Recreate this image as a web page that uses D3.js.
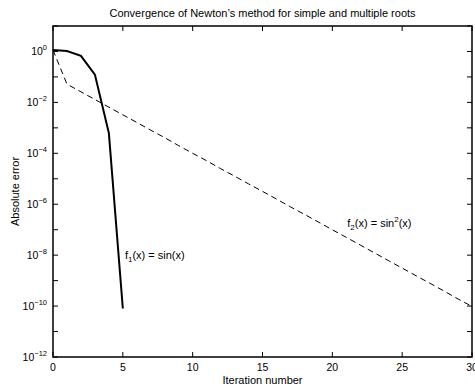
<!DOCTYPE html>
<html lang="en">
<head>
    <meta charset="UTF-8">
    <title>Newton convergence</title>
    <style>
        body { margin: 0; background: #fff; }
        text { font-family: "Liberation Sans", Arial, sans-serif; fill: #000; }
        .tick-label { font-size: 10.5px; }
    </style>
    <script src="https://cdn.jsdelivr.net/npm/d3@7"></script>
</head>
<body>
<svg class="chart" width="475" height="386"></svg>
<script>
    // iteration numbers and absolute errors
    const iterSimple = [0, 1, 2, 3, 4, 5],
        errSimple = [1.14, 1.04, 0.67, 0.123, 6.2e-4, 8e-11],
        iterMultiple = [0, 1, 2, 3, 4, 5, 6, 7, 8, 9, 10, 11, 12, 13, 14, 15,
            16, 17, 18, 19, 20, 21, 22, 23, 24, 25, 26, 27, 28, 29, 30],
        errMultiple = [1.14, 5.2e-2, 2.6e-2, 1.3e-2, 6.5e-3, 3.25e-3, 1.63e-3, 8.1e-4,
            4.1e-4, 2.0e-4, 1.0e-4, 5.1e-5, 2.5e-5, 1.27e-5, 6.3e-6, 3.2e-6,
            1.6e-6, 7.9e-7, 4.0e-7, 2.0e-7, 9.9e-8, 5.0e-8, 2.5e-8, 1.24e-8,
            6.2e-9, 3.1e-9, 1.55e-9, 7.8e-10, 3.9e-10, 1.9e-10, 9.7e-11],
        xTicks = [0, 5, 10, 15, 20, 25, 30],
        yExponents = [0, -2, -4, -6, -8, -10, -12],
        yMinorExponents = [1, -1, -3, -5, -7, -9, -11];

    const margin = {left: 53, right: 3, top: 26, bottom: 29},
        width = 475 - margin.left - margin.right,
        height = 386 - margin.top - margin.bottom;

    const svg = d3.select('.chart');

    let x = d3.scaleLinear().domain([0, 30]).range([margin.left, margin.left + width]),
        y = d3.scaleLog().domain([1e-12, 10]).range([margin.top + height, margin.top]);

    /**
     * 刻度（朝内，四边）
     */
    const tickLen = 5;
    const axes = svg.append('g').attr('stroke', '#000').attr('stroke-width', 1);

    xTicks.forEach(t => {
        axes.append('line').attr('x1', x(t)).attr('x2', x(t))
            .attr('y1', y(1e-12)).attr('y2', y(1e-12) - tickLen);
        axes.append('line').attr('x1', x(t)).attr('x2', x(t))
            .attr('y1', y(10)).attr('y2', y(10) + tickLen);
    });
    yExponents.concat(yMinorExponents).forEach(e => {
        axes.append('line').attr('x1', x(0)).attr('x2', x(0) + tickLen)
            .attr('y1', y(Math.pow(10, e))).attr('y2', y(Math.pow(10, e)));
        axes.append('line').attr('x1', x(30)).attr('x2', x(30) - tickLen)
            .attr('y1', y(Math.pow(10, e))).attr('y2', y(Math.pow(10, e)));
    });

    // 边框
    svg.append('rect')
        .attr('x', x(0)).attr('y', y(10))
        .attr('width', x(30) - x(0)).attr('height', y(1e-12) - y(10))
        .attr('fill', 'none').attr('stroke', '#000').attr('stroke-width', 1.5);

    // x tick labels
    svg.append('g').selectAll('text').data(xTicks).enter().append('text')
        .attr('class', 'tick-label')
        .attr('x', d => x(d)).attr('y', y(1e-12) + 14)
        .attr('text-anchor', 'middle')
        .text(d => d);

    // y tick labels: 10 with superscript
    let yl = svg.append('g').selectAll('text').data(yExponents).enter().append('text')
        .attr('class', 'tick-label')
        .attr('x', x(0) - 6).attr('y', d => y(Math.pow(10, d)) + 4)
        .attr('text-anchor', 'end');
    yl.append('tspan').text('10');
    yl.append('tspan').attr('dy', -5).attr('font-size', '7.5px')
        .text(d => d === 0 ? '0' : '\u2212' + (-d));

    /**
     * 曲线
     */
    let line = d3.line().x(d => x(d[0])).y(d => y(d[1]));

    svg.append('path')
        .datum(iterMultiple.map((d, i) => [d, errMultiple[i]]))
        .attr('d', line)
        .attr('fill', 'none').attr('stroke', '#000')
        .attr('stroke-width', 1).attr('stroke-dasharray', '6,4');

    svg.append('path')
        .datum(iterSimple.map((d, i) => [d, errSimple[i]]))
        .attr('d', line)
        .attr('fill', 'none').attr('stroke', '#000')
        .attr('stroke-width', 2);

    // 注释文字
    let t1 = svg.append('text').attr('font-size', '11px')
        .attr('x', x(5.15)).attr('y', y(1e-8) + 4);
    t1.append('tspan').text('f');
    t1.append('tspan').attr('dy', 3).attr('font-size', '8px').text('1');
    t1.append('tspan').attr('dy', -3).text('(x) = sin(x)');

    let t2 = svg.append('text').attr('font-size', '11px')
        .attr('x', x(21.07)).attr('y', y(1.8e-7) + 4);
    t2.append('tspan').text('f');
    t2.append('tspan').attr('dy', 3).attr('font-size', '8px').text('2');
    t2.append('tspan').attr('dy', -3).text('(x) = sin');
    t2.append('tspan').attr('dy', -5).attr('font-size', '8px').text('2');
    t2.append('tspan').attr('dy', 5).text('(x)');

    // title and axis labels
    svg.append('text').attr('font-size', '11px').attr('text-anchor', 'middle')
        .attr('x', (x(0) + x(30)) / 2).attr('y', 17)
        .text('Convergence of Newton\u2019s method for simple and multiple roots');
    svg.append('text').attr('font-size', '11px').attr('text-anchor', 'middle')
        .attr('x', (x(0) + x(30)) / 2).attr('y', 384)
        .text('Iteration number');
    svg.append('text').attr('font-size', '11px').attr('text-anchor', 'middle')
        .attr('transform', 'translate(19,' + ((y(10) + y(1e-12)) / 2) + ') rotate(-90)')
        .text('Absolute error');
</script>
</body>
</html>
